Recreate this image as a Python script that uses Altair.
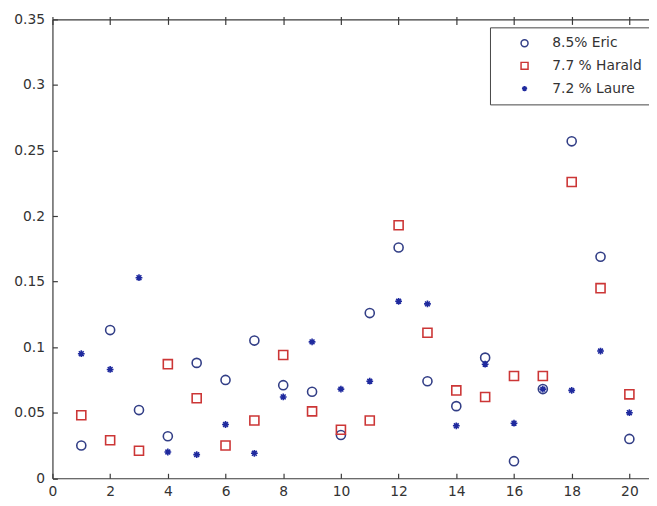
import altair as alt
import pandas as pd

# ---- data ----
x_index = list(range(1, 21))
series_names = ["8.5% Eric", "7.7 % Harald", "7.2 % Laure"]
eric = [0.025, 0.113, 0.052, 0.032, 0.088, 0.075, 0.105, 0.071, 0.066, 0.033,
        0.126, 0.176, 0.074, 0.055, 0.092, 0.013, 0.068, 0.257, 0.169, 0.030]
harald = [0.048, 0.029, 0.021, 0.087, 0.061, 0.025, 0.044, 0.094, 0.051, 0.037,
          0.044, 0.193, 0.111, 0.067, 0.062, 0.078, 0.078, 0.226, 0.145, 0.064]
laure = [0.095, 0.083, 0.153, 0.020, 0.018, 0.041, 0.019, 0.062, 0.104, 0.068,
         0.074, 0.135, 0.133, 0.040, 0.087, 0.042, 0.068, 0.067, 0.097, 0.050]
x_ticks = [0, 2, 4, 6, 8, 10, 12, 14, 16, 18, 20]
y_ticks = [0, 0.05, 0.1, 0.15, 0.2, 0.25, 0.3, 0.35]

rows = []
for name, vals in zip(series_names, [eric, harald, laure]):
    for xi, v in zip(x_index, vals):
        rows.append({"x": xi, "y": v, "series": name})
df = pd.DataFrame(rows)

# ---- styling ----
FONT = "DejaVu Sans"
AX = "#3a3a3a"
colors = ["#323e86", "#cc3636", "#1f2a9e"]
star = "M0,-0.75L0,0.75M-0.75,0L0.75,0M-0.53,-0.53L0.53,0.53M-0.53,0.53L0.53,-0.53"
shapes = ["circle", "square", star]

xs = alt.Scale(domain=[0, 20.68], nice=False, zero=False)
ys = alt.Scale(domain=[0, 0.35], nice=False, zero=False)

legend = alt.Legend(
    title=None, orient="none", legendX=443, legendY=8,
    fillColor="white", strokeColor="#444444", padding=9,
    symbolSize=50, symbolStrokeWidth=1.5, symbolOffset=19,
    labelOffset=21, labelFont=FONT, labelFontSize=14, labelColor="#333333",
    rowPadding=9,
)

points = alt.Chart(df).mark_point(filled=False, strokeWidth=1.6, size=84, opacity=1).encode(
    x=alt.X("x:Q", scale=xs, axis=alt.Axis(
        orient="bottom", values=x_ticks, ticks=False, tickSize=0, labelPadding=7,
        labelFlush=False, domain=True, title=None, grid=False, format="d")),
    y=alt.Y("y:Q", scale=ys, axis=alt.Axis(
        orient="left", values=y_ticks, ticks=False, tickSize=0, labelPadding=8,
        domain=True, title=None, grid=False, format="~g")),
    color=alt.Color("series:N", scale=alt.Scale(domain=series_names, range=colors), legend=legend),
    shape=alt.Shape("series:N", scale=alt.Scale(domain=series_names, range=shapes), legend=legend),
)

ghost = alt.Chart(df).mark_point(opacity=0)

inner_ticks = ghost.encode(
    x=alt.X("x:Q", scale=xs, axis=alt.Axis(
        orient="bottom", values=x_ticks, offset=-5, tickSize=5, labels=False,
        domain=False, grid=False, title=None)),
    y=alt.Y("y:Q", scale=ys, axis=alt.Axis(
        orient="left", values=y_ticks, offset=-5, tickSize=5, labels=False,
        domain=False, grid=False, title=None)),
)

top_domain = ghost.encode(
    x=alt.X("x:Q", scale=xs, axis=alt.Axis(
        orient="top", values=x_ticks, ticks=False, labels=False,
        domain=True, grid=False, title=None)),
    y=alt.Y("y:Q", scale=ys, axis=None),
)

top_ticks = ghost.encode(
    x=alt.X("x:Q", scale=xs, axis=alt.Axis(
        orient="top", values=x_ticks, offset=-5, tickSize=8, labels=False,
        domain=False, grid=False, title=None)),
    y=alt.Y("y:Q", scale=ys, axis=None),
)

chart = alt.layer(points, inner_ticks, top_domain, top_ticks).resolve_axis(
    x="independent", y="independent"
).properties(
    width=604, height=464.5,
    autosize=alt.AutoSizeParams(type="none"),
    padding={"left": 45, "top": 8.5, "right": 0, "bottom": 23},
).configure_view(stroke=None).configure_axis(
    labelFont=FONT, labelFontSize=14, labelColor="#333333",
    domainColor=AX, tickColor=AX, domainWidth=1.2, tickWidth=1.2,
)

chart.save("out.html", embed_options={"renderer": "svg", "actions": False})
